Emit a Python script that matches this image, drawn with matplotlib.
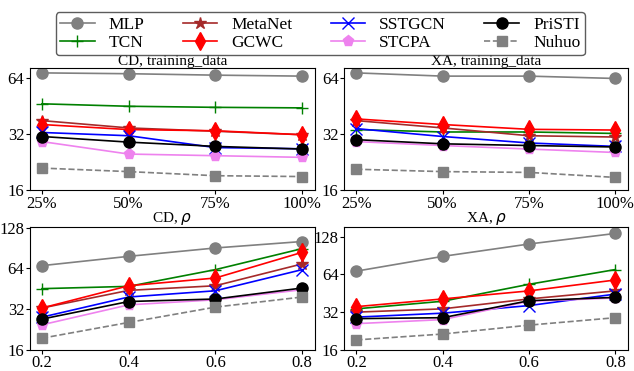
import matplotlib
matplotlib.use("Agg")
import matplotlib.pyplot as plt
from matplotlib.ticker import FixedLocator, NullLocator

plt.rcParams['font.family'] = ['Liberation Serif', 'DejaVu Serif']
plt.rcParams['mathtext.fontset'] = 'dejavusans'

models = ['MLP', 'TCN', 'MetaNet', 'GCWC', 'SSTGCN', 'STCPA', 'PriSTI', 'Nuhuo']

train_labels = ['25%', '50%', '75%', '100%']
rho_labels = ['0.2', '0.4', '0.6', '0.8']

# CD, training_data
cd_train = {
    'MLP':     [68.6, 67.9, 66.7, 65.9],
    'TCN':     [46.7, 45.3, 44.7, 44.4],
    'MetaNet': [37.9, 34.6, 33.2, 31.8],
    'GCWC':    [36.1, 33.9, 33.4, 31.8],
    'SSTGCN':  [32.7, 31.4, 27.1, 26.7],
    'STCPA':   [29.2, 25.0, 24.5, 24.0],
    'PriSTI':  [31.1, 29.0, 27.5, 26.6],
    'Nuhuo':   [21.0, 20.1, 19.1, 18.9],
}

# XA, training_data
xa_train = {
    'MLP':     [68.6, 65.9, 65.9, 64.0],
    'TCN':     [33.9, 32.9, 32.9, 32.3],
    'MetaNet': [37.9, 34.6, 31.4, 30.9],
    'GCWC':    [38.7, 36.1, 34.0, 33.7],
    'SSTGCN':  [34.3, 31.1, 28.7, 27.5],
    'STCPA':   [29.2, 27.8, 26.6, 25.5],
    'PriSTI':  [29.9, 28.4, 27.8, 27.3],
    'Nuhuo':   [20.7, 20.1, 19.9, 18.7],
}

# CD, rho
cd_rho = {
    'MLP':     [67.0, 78.5, 90.5, 101.0],
    'TCN':     [45.3, 47.1, 62.6, 89.5],
    'MetaNet': [32.6, 44.0, 47.6, 69.0],
    'GCWC':    [32.6, 47.6, 54.3, 84.0],
    'SSTGCN':  [27.9, 39.3, 43.7, 62.6],
    'STCPA':   [24.5, 34.4, 37.5, 44.5],
    'PriSTI':  [27.0, 36.4, 38.0, 45.8],
    'Nuhuo':   [19.5, 25.5, 33.1, 39.3],
}

# XA, rho
xa_rho = {
    'MLP':     [68.0, 89.2, 112.0, 136.0],
    'TCN':     [34.0, 39.1, 53.4, 70.0],
    'MetaNet': [32.0, 34.0, 40.8, 47.3],
    'GCWC':    [35.4, 40.8, 47.3, 57.8],
    'SSTGCN':  [29.2, 31.4, 36.1, 44.6],
    'STCPA':   [25.9, 27.9, 39.1, 41.5],
    'PriSTI':  [28.4, 28.9, 39.5, 42.0],
    'Nuhuo':   [19.2, 21.4, 25.2, 28.9],
}

styles = {
    'MLP':     dict(color='grey', marker='o', ms=8),
    'TCN':     dict(color='green', marker='+', ms=9, mew=1),
    'MetaNet': dict(color='brown', marker='*', ms=9),
    'GCWC':    dict(color='red', marker='d', ms=9),
    'SSTGCN':  dict(color='blue', marker='x', ms=8, mew=1),
    'STCPA':   dict(color='violet', marker='p', ms=8),
    'PriSTI':  dict(color='black', marker='o', ms=8),
    'Nuhuo':   dict(color='grey', marker='s', ms=7, ls='--'),
}

fig = plt.figure(figsize=(6.34, 3.71), dpi=100)

panels = [
    ([0.047, 0.488, 0.450, 0.329], cd_train, train_labels, 'CD, training_data', (16, 73), [16, 32, 64]),
    ([0.543, 0.488, 0.448, 0.329], xa_train, train_labels, 'XA, training_data', (16, 73), [16, 32, 64]),
    ([0.047, 0.057, 0.450, 0.332], cd_rho, rho_labels, r'CD, $\rho$', (16, 130), [16, 32, 64, 128]),
    ([0.543, 0.057, 0.448, 0.332], xa_rho, rho_labels, r'XA, $\rho$', (16, 154), [16, 32, 64, 128]),
]

handles = {}
for rect, data, xlabels, title, ylim, yticks in panels:
    ax = fig.add_axes(rect)
    xs = range(len(xlabels))
    for m in models:
        st = dict(styles[m])
        ls = st.pop('ls', '-')
        line, = ax.plot(xs, data[m], ls=ls, lw=1.2, **st)
        handles[m] = line
    ax.set_yscale('log', base=2)
    ax.set_ylim(*ylim)
    ax.yaxis.set_major_locator(FixedLocator(yticks))
    ax.yaxis.set_minor_locator(NullLocator())
    ax.set_yticklabels([str(t) for t in yticks])
    ax.set_xticks(list(xs))
    ax.set_xticklabels(xlabels)
    ax.set_xlim(-0.14, 3.15)
    ax.tick_params(labelsize=12, length=3, pad=1)
    ax.set_title(title, fontsize=11, pad=2)

leg = fig.legend([handles[m] for m in models], models, loc='upper center',
                 bbox_to_anchor=(0.505, 0.99), ncol=4, fontsize=12.5,
                 frameon=True, fancybox=True, edgecolor='#333333',
                 handlelength=2, columnspacing=2.2, labelspacing=0.1,
                 borderpad=0.25, handletextpad=0.8)
leg.get_frame().set_linewidth(1.0)

fig.savefig('out.png', dpi=100)
